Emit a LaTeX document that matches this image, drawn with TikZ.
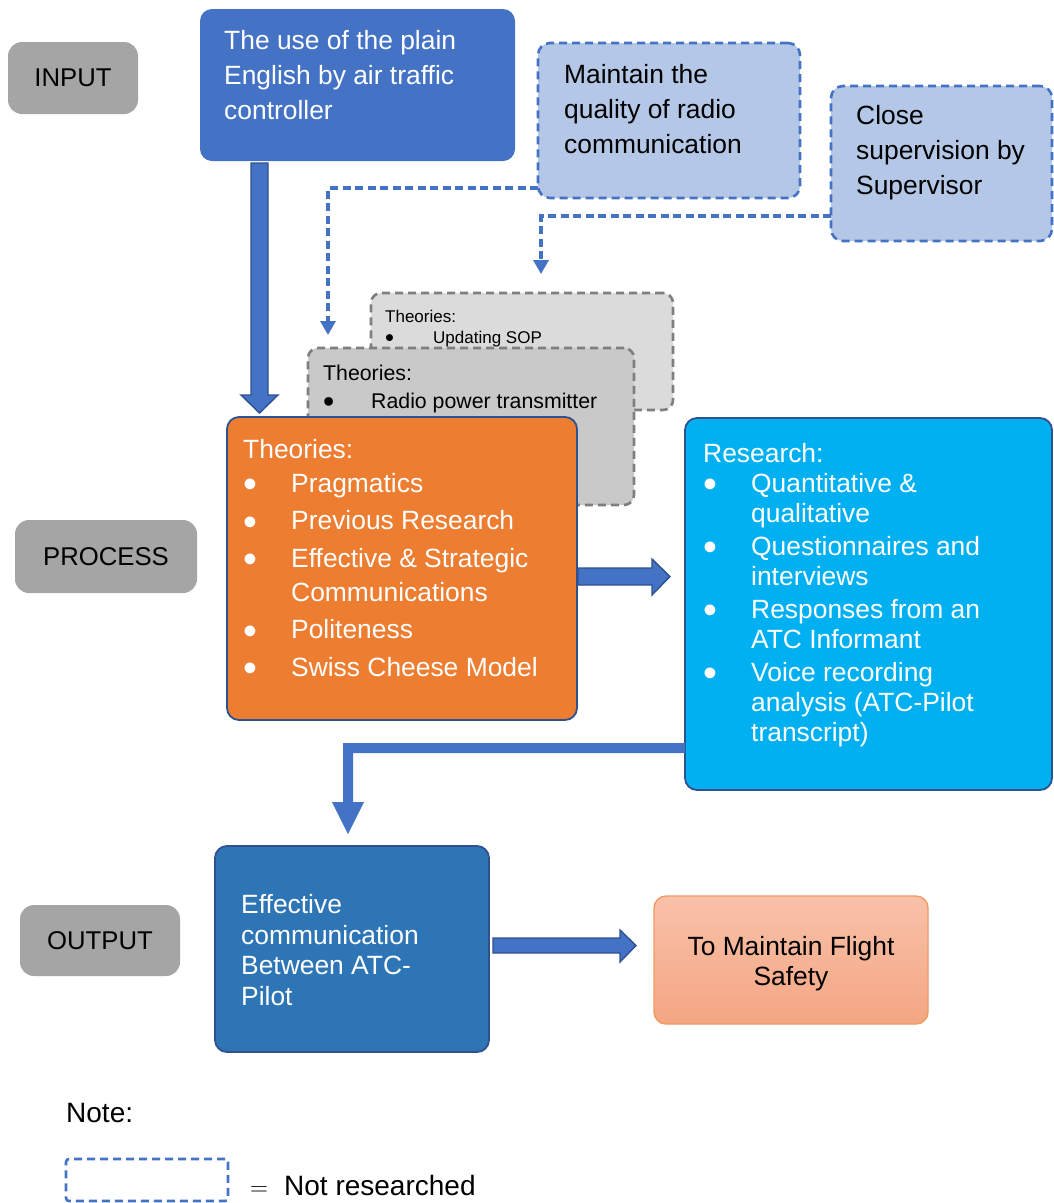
\documentclass[tikz,border=0pt]{standalone}
\usepackage{fontspec}
\setmainfont{Liberation Sans}
\usetikzlibrary{calc,arrows.meta}
\definecolor{lblgray}{HTML}{A5A5A5}
\definecolor{inblue}{HTML}{4472C4}
\definecolor{lightblue}{HTML}{B4C7E7}
\definecolor{edgeblue}{HTML}{2F528F}
\definecolor{orangebox}{HTML}{ED7D31}
\definecolor{cyanbox}{HTML}{00B0F0}
\definecolor{outblue}{HTML}{2E75B6}
\definecolor{backgray}{HTML}{DBDBDB}
\definecolor{midgray}{HTML}{C9C9C9}
\definecolor{dashgray}{HTML}{7F7F7F}
\definecolor{peachtop}{HTML}{F8C1A9}
\definecolor{peachbot}{HTML}{F4A683}
\definecolor{peachedge}{HTML}{F19B62}
\newcommand{\bul}{\makebox[48pt][l]{\raisebox{-0.2em}{\scalebox{1.5}{•}}}}
\newcommand{\ind}{\hspace*{48pt}}
\tikzset{
  box/.style={rectangle, rounded corners=12pt, inner sep=0pt, outer sep=0pt},
  lbl/.style={box, fill=lblgray, rounded corners=14pt, font=\fontsize{25.7}{30}\selectfont},
  txt/.style={anchor=north west, inner sep=0pt, align=left},
  dashbox/.style={box, fill=lightblue, draw=inblue, line width=2.6pt, dash pattern=on 8pt off 5pt},
  graybox/.style={box, draw=dashgray, line width=2.6pt, dash pattern=on 8pt off 5pt, rounded corners=10pt},
  solidbox/.style={box, draw=edgeblue, line width=1.8pt},
  blk/.style={fill=inblue, draw=edgeblue, line width=1.4pt, line join=miter},
  dashconn/.style={draw=inblue, line width=3.4pt, dash pattern=on 8pt off 4.5pt, -{Triangle[length=14pt,width=15pt]}},
  mainfont/.style={font=\fontsize{26.4}{35}\selectfont}
}
\begin{document}
\begin{tikzpicture}[x=1pt,y=-1pt]
\useasboundingbox (0,0) rectangle (1054,1203);
\fill[white] (0,0) rectangle (1054,1203);

% stage labels
\node[lbl, minimum width=130pt, minimum height=72pt] (inlbl) at (73,78) {INPUT};
\node[lbl, minimum width=182pt, minimum height=73pt] (proclbl) at (106,556.5) {PROCESS};
\node[lbl, minimum width=160pt, minimum height=71pt] (outlbl) at (100,940.5) {OUTPUT};

% input box
\node[box, fill=inblue, minimum width=315pt, minimum height=152pt] (inbox) at (357.5,85) {};
\node[txt, mainfont, text=white] (intxt) at (224,30) {The use of the plain\\English by air traffic\\controller};

% not researched boxes
\node[dashbox, minimum width=262pt, minimum height=155pt] (maint) at (669,120.5) {};
\node[txt, mainfont] (mainttxt) at (564,64) {Maintain the\\quality of radio\\communication};
\node[dashbox, minimum width=221pt, minimum height=155pt] (close) at (941.5,163.5) {};
\node[txt, mainfont] (closetxt) at (856,105) {Close\\supervision by\\Supervisor};

% gray theory boxes
\node[graybox, fill=backgray, minimum width=302pt, minimum height=117pt] (backg) at (522,351.5) {};
\node[txt, font=\fontsize{17}{21}\selectfont] (backtxt) at (385,309.8) {Theories:\\\bul Updating SOP};
\node[graybox, fill=midgray, minimum width=326pt, minimum height=157pt] (midg) at (471,426.5) {};
\node[txt, font=\fontsize{21.3}{28}\selectfont] (midtxt) at (323,364.7) {Theories:\\\bul Radio power transmitter};

% dashed connectors
\draw[dashconn, shorten >=13pt] (maint.west |- 0,188) -| (midg.north -| 328,0);
\draw[dashconn, shorten >=19pt] (close.west |- 0,216) -| (backg.north -| 541,0);

% orange theories box
\node[solidbox, fill=orangebox, minimum width=350pt, minimum height=303pt] (theo) at (402,568.5) {};
\node[txt, text=white, font=\fontsize{26.4}{34}\selectfont] (theotxt) at (243,439) {Theories:\\
\bul Pragmatics\\[3.5pt]
\bul Previous Research\\[3.5pt]
\bul Effective \& Strategic\\
\ind Communications\\[3.5pt]
\bul Politeness\\[3.5pt]
\bul Swiss Cheese Model};

% research box
\node[solidbox, fill=cyanbox, minimum width=367pt, minimum height=372pt] (res) at (868.5,604) {};
\node[txt, text=white, font=\fontsize{26.4}{30}\selectfont] (restxt) at (703,443) {Research:\\
\bul Quantitative \&\\
\ind qualitative\\[3pt]
\bul Questionnaires and\\
\ind interviews\\[3pt]
\bul Responses from an\\
\ind ATC Informant\\[3pt]
\bul Voice recording\\
\ind analysis (ATC-Pilot\\
\ind transcript)};

% output box
\node[solidbox, fill=outblue, minimum width=274pt, minimum height=206pt] (outbox) at (352,949) {};
\node[txt, text=white, font=\fontsize{26.4}{30.7}\selectfont] (outtxt) at (241,894) {Effective\\communication\\Between ATC-\\Pilot};

% flight safety box
\node[box, top color=peachtop, bottom color=peachbot, draw=peachedge, line width=1.4pt, minimum width=274pt, minimum height=128pt] (flight) at (791,960) {};
\node[anchor=north, inner sep=0pt, align=center, font=\fontsize{26.4}{30}\selectfont] (flighttxt) at (791,936) {To Maintain Flight\\Safety};

% block arrows
\draw[blk] (251,163) -- (268,163) -- (268,395) -- (278,395) -- (259.5,413) -- (241,395) -- (251,395) -- cycle;
\draw[blk] (578,568) -- (652,568) -- (652,559) -- (670,576.5) -- (652,595) -- (652,585) -- (578,585) -- cycle;
\fill[inblue] (685,743) -- (343,743) -- (343,802) -- (332,802) -- (348,834) -- (364,802) -- (353,802) -- (353,753) -- (685,753) -- cycle;
\draw[blk] (493,938) -- (620,938) -- (620,930) -- (636,945.5) -- (620,962) -- (620,953) -- (493,953) -- cycle;

% note / legend
\node[anchor=base west, inner sep=0pt, font=\fontsize{28}{34}\selectfont] (note) at (66,1122) {Note:};
\node[box, draw=inblue, line width=2.6pt, dash pattern=on 8pt off 5pt, rounded corners=3pt, minimum width=162pt, minimum height=42pt] (legbox) at (147,1180) {};
\node[anchor=base west, inner sep=0pt, font=\fontsize{28}{34}\selectfont] (eq) at (250,1195) {$=$};
\node[anchor=base west, inner sep=0pt, font=\fontsize{28}{34}\selectfont] (legtxt) at (284,1195) {Not researched};
\end{tikzpicture}
\end{document}
